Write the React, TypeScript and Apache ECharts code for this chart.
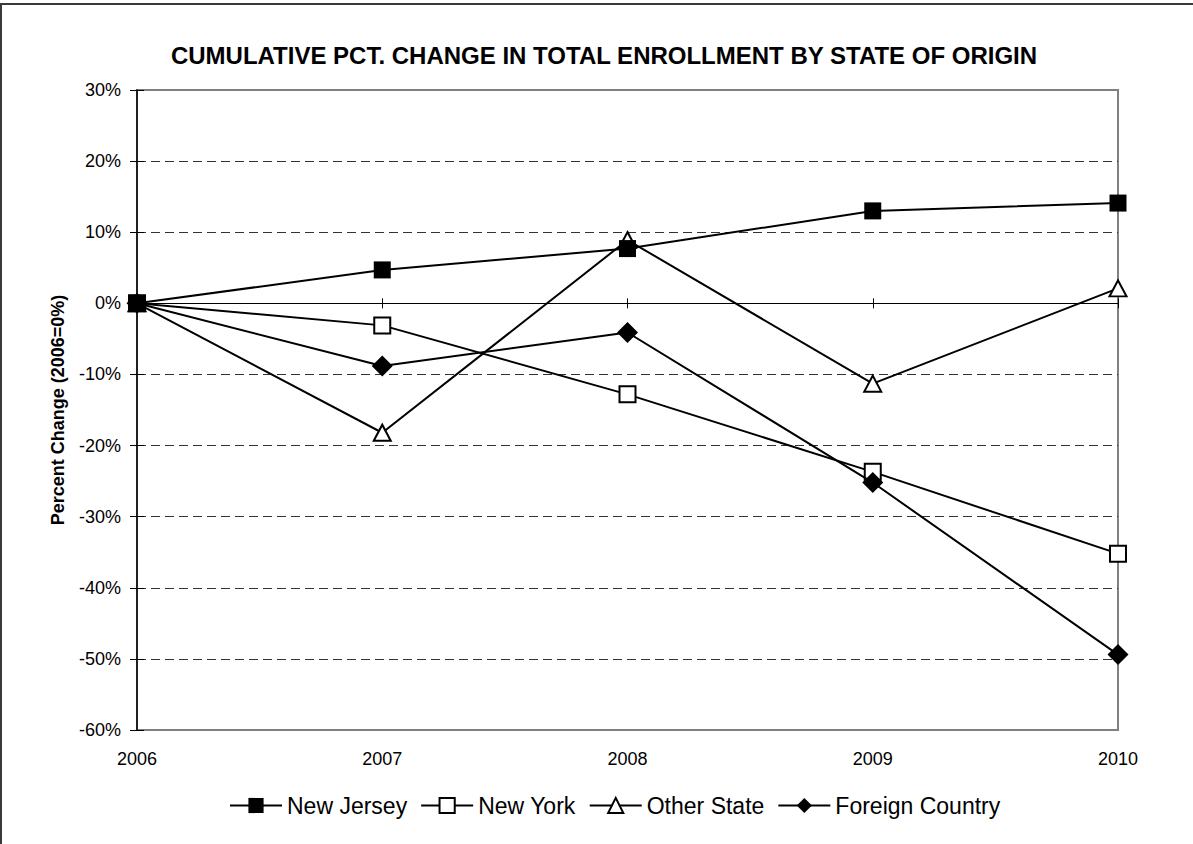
import React, { useEffect, useRef } from "react";
import * as echarts from "echarts";

const years = ["2006", "2007", "2008", "2009", "2010"];
const newJersey = [0, 4.7, 7.7, 13.0, 14.1];
const newYork = [0, -3.1, -12.8, -23.7, -35.2];
const otherState = [0, -18.2, 8.9, -11.3, 2.1];
const foreignCountry = [0, -8.8, -4.1, -25.2, -49.4];
const legendNames = ["New Jersey", "New York", "Other State", "Foreign Country"];

const FONT = "'Liberation Sans', Arial, Helvetica, sans-serif";

export default function App() {
  const ref = useRef<HTMLDivElement>(null);
  useEffect(() => {
    if (!ref.current) return;
    const chart = echarts.init(ref.current, null, { renderer: "svg" });
    const lineStyle = { color: "#000", width: 2 };
    const option: any = {
      animation: false,
      backgroundColor: "#fff",
      textStyle: { fontFamily: FONT, color: "#000" },
      title: {
        text: "CUMULATIVE PCT. CHANGE IN TOTAL ENROLLMENT BY STATE OF ORIGIN",
        left: 599,
        textAlign: "center",
        top: 38,
        textStyle: { fontFamily: FONT, fontSize: 24, fontWeight: "bold", color: "#000" },
      },
      graphic: [
        { type: "line", shape: { x1: 0, y1: 4, x2: 1193, y2: 4 }, style: { stroke: "#3a3a3a", lineWidth: 2 } },
        { type: "line", shape: { x1: 1, y1: 3, x2: 1, y2: 844 }, style: { stroke: "#3a3a3a", lineWidth: 2 } },
      ],
      legend: {
        data: legendNames,
        left: 224,
        top: 789,
        itemWidth: 52,
        itemHeight: 19,
        itemGap: 13,
        textStyle: { fontFamily: FONT, fontSize: 23, color: "#000" },
      },
      grid: {
        left: 137,
        right: 75,
        top: 90,
        bottom: 114,
        show: true,
        borderColor: "#808080",
        borderWidth: 2,
        backgroundColor: "transparent",
        outerBoundsMode: "none",
        containLabel: false,
      },
      xAxis: [
        {
          type: "category",
          data: years,
          boundaryGap: false,
          position: "bottom",
          axisLine: { show: false, onZero: false },
          axisTick: { show: false },
          axisLabel: { fontSize: 18, margin: 20, color: "#000", fontFamily: FONT },
          splitLine: { show: false },
        },
        {
          type: "category",
          data: years,
          boundaryGap: false,
          position: "bottom",
          axisLine: { show: true, onZero: true, onZeroAxisIndex: 0, lineStyle: { color: "#000", width: 1 } },
          axisTick: { show: true, inside: true, length: 5, lineStyle: { color: "#000", width: 1 } },
          axisLabel: { show: false },
          splitLine: { show: false },
        },
        {
          type: "category",
          data: years,
          boundaryGap: false,
          position: "bottom",
          axisLine: { show: true, onZero: true, onZeroAxisIndex: 0, lineStyle: { color: "#000", width: 1 } },
          axisTick: { show: true, inside: false, length: 5, lineStyle: { color: "#000", width: 1 } },
          axisLabel: { show: false },
          splitLine: { show: false },
        },
      ],
      yAxis: [
        {
          type: "value",
          min: -60,
          max: 30,
          interval: 10,
          position: "left",
          name: "Percent Change (2006=0%)",
          nameLocation: "middle",
          nameGap: 70,
          nameRotate: 90,
          nameTextStyle: { fontFamily: FONT, fontSize: 18, fontWeight: "bold", color: "#000" },
          axisLine: { show: true, onZero: false, lineStyle: { color: "#000", width: 1.5 } },
          axisTick: { show: true, inside: false, length: 7, lineStyle: { color: "#000", width: 1 } },
          axisLabel: { formatter: "{value}%", fontSize: 18, margin: 16, color: "#000", fontFamily: FONT },
          splitLine: {
            show: true,
            showMinLine: false,
            showMaxLine: false,
            lineStyle: { color: "#333", width: 1, type: [9, 5] },
          },
        },
        {
          type: "value",
          min: -60,
          max: 30,
          interval: 10,
          position: "left",
          axisLine: { show: false, onZero: false },
          axisTick: { show: true, inside: true, length: 7, lineStyle: { color: "#000", width: 1 } },
          axisLabel: { show: false },
          splitLine: { show: false },
        },
      ],
      series: [
        {
          name: "New Jersey",
          type: "line",
          data: newJersey,
          z: 5,
          symbol: "rect",
          symbolSize: 17,
          lineStyle,
          itemStyle: { color: "#000", borderWidth: 0 },
        },
        {
          name: "New York",
          type: "line",
          data: newYork,
          z: 2,
          symbol: "emptyRect",
          symbolSize: 16,
          lineStyle,
          itemStyle: { color: "#000", borderColor: "#000", borderWidth: 2 },
        },
        {
          name: "Other State",
          type: "line",
          data: otherState,
          z: 3,
          symbol: "emptyTriangle",
          symbolSize: [17, 16],
          lineStyle,
          itemStyle: { color: "#000", borderColor: "#000", borderWidth: 2 },
        },
        {
          name: "Foreign Country",
          type: "line",
          data: foreignCountry,
          z: 4,
          symbol: "diamond",
          symbolSize: 21,
          lineStyle,
          itemStyle: { color: "#000", borderWidth: 0 },
        },
      ],
    };
    chart.setOption(option);
    return () => chart.dispose();
  }, []);
  return (
    <div
      ref={ref}
      style={{ position: "absolute", left: 0, top: 0, width: 1193, height: 844 }}
    />
  );
}
